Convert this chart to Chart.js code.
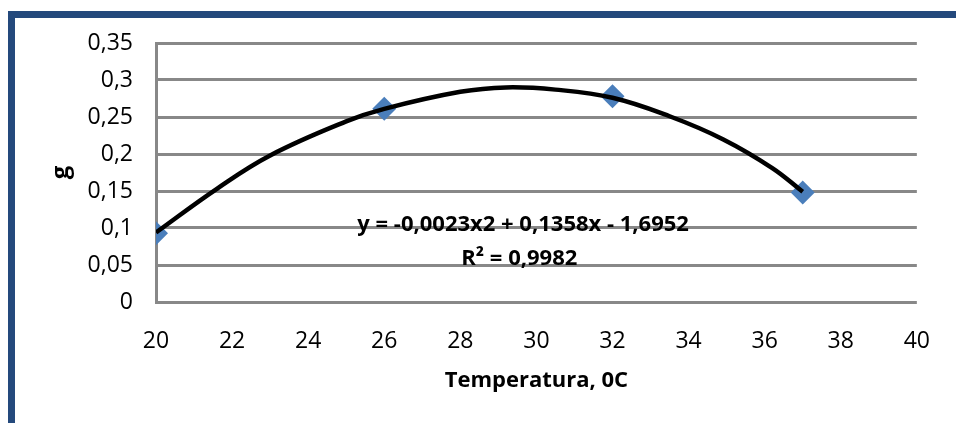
<!DOCTYPE html>
<html>
<head>
<meta charset="utf-8">
<script src="https://cdn.jsdelivr.net/npm/chart.js@4.4.0/dist/chart.umd.min.js"></script>
<style>
  html, body { margin: 0; padding: 0; background: #fff; overflow: hidden; }
  #frame {
    position: absolute; left: 8px; top: 11px; width: 1000px; height: 500px;
    border: 7px solid #24497c; box-sizing: border-box;
  }
  #wrap { position: absolute; left: 0; top: 0; width: 956px; height: 423px; }
</style>
</head>
<body>
<div id="frame"></div>
<div id="wrap"><canvas id="myChart" width="956" height="423"></canvas></div>
<script>
// measured points
let tempValues = [20, 26, 32, 37];
let measured = [0.093, 0.261, 0.278, 0.148];

// polynomial trendline
let trendX = [20, 21.6, 23, 25, 26, 28, 29.2, 30.5, 32, 33.5, 34.9, 36.2, 37];
let trendY = [0.094, 0.153, 0.198, 0.244, 0.261, 0.284, 0.29, 0.287, 0.276, 0.251, 0.22, 0.181, 0.149];

let yTicks = [0, 0.05, 0.1, 0.15, 0.2, 0.25, 0.3, 0.35];
let equationText = "y = -0,0023x2 + 0,1358x - 1,6952";
let r2Text = "R² = 0,9982";

const pointsData = tempValues.map((t, i) => ({ x: t, y: measured[i] }));
const trendData = trendX.map((t, i) => ({ x: t, y: trendY[i] }));

const equationLabel = {
  id: "equationLabel",
  afterDatasetsDraw(chart) {
    const ctx = chart.ctx;
    const xs = chart.scales.x;
    const ys = chart.scales.y;
    ctx.save();
    ctx.fillStyle = "#000";
    ctx.font = "bold 22px 'Open Sans'";
    ctx.textAlign = "center";
    ctx.textBaseline = "middle";
    ctx.fillText(equationText, xs.getPixelForValue(29.65), ys.getPixelForValue(0.104));
    ctx.fillText(r2Text, xs.getPixelForValue(29.55), ys.getPixelForValue(0.059));
    ctx.restore();
  },
};

Chart.defaults.font.family = "'Open Sans'";
Chart.defaults.color = "#000";

let ctx = document.getElementById("myChart");
let myChart = new Chart(ctx, {
  type: "scatter",
  data: {
    datasets: [
      {
        label: "trend",
        data: trendData,
        showLine: true,
        borderColor: "#000",
        borderWidth: 4.5,
        pointRadius: 0,
        tension: 0.4,
      },
      {
        label: "points",
        data: pointsData,
        pointStyle: "rectRot",
        pointRadius: 12,
        backgroundColor: "#4a7ebb",
        borderColor: "#4a7ebb",
        borderWidth: 0,
      },
    ],
  },
  options: {
    responsive: false,
    animation: false,
    layout: { padding: { top: 43, right: 31, bottom: 0, left: 0 } },
    plugins: { legend: { display: false }, tooltip: { enabled: false } },
    scales: {
      x: {
        type: "linear",
        min: 20,
        max: 40,
        ticks: { stepSize: 2, padding: 26, font: { size: 23 } },
        grid: { display: false, drawTicks: false },
        border: { display: false },
        title: {
          display: true,
          text: "Temperatura, 0C",
          font: { size: 22, weight: "bold" },
          padding: { top: 0, bottom: 29 },
        },
        afterFit(scale) { scale.height = 121; },
      },
      y: {
        min: 0,
        max: 0.35,
        afterBuildTicks(scale) { scale.ticks = yTicks.map((v) => ({ value: v })); },
        ticks: {
          padding: 23,
          font: { size: 23 },
          callback: (v) => String(v).replace(".", ","),
        },
        grid: { color: "#888888", lineWidth: 3, drawTicks: false },
        border: { display: true, color: "#888888", width: 3 },
        title: {
          display: true,
          text: "g",
          font: { size: 24, weight: "bold" },
          padding: { top: 47, bottom: 0 },
        },
        afterFit(scale) { scale.width = 156; },
      },
    },
  },
  plugins: [equationLabel],
});
</script>
</body>
</html>
